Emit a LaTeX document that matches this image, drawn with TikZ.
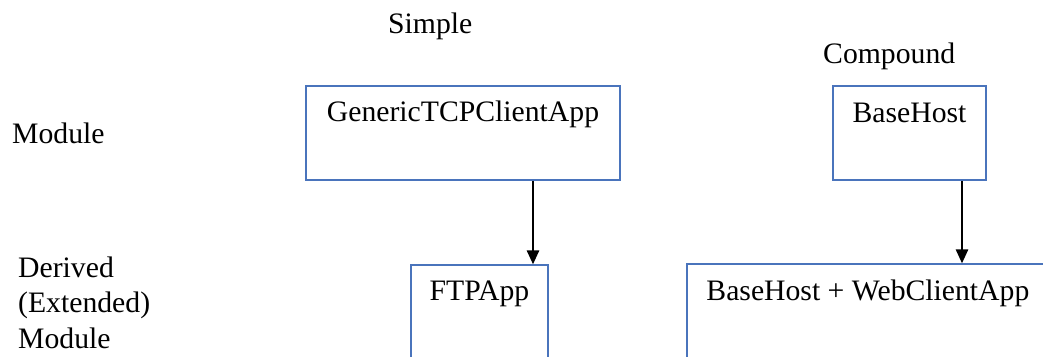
\documentclass[tikz,border=0pt]{standalone}
\usepackage{fontspec}
\setmainfont{Liberation Serif}
\usetikzlibrary{arrows.meta,calc}
\definecolor{boxblue}{HTML}{4A74BC}
\tikzset{
  modbox/.style={draw=boxblue, line width=1.5pt, fill=none, inner sep=0pt},
  caption/.style={font=\fontsize{29.7}{35.5}\selectfont, inner sep=0pt, text=black},
  inherit/.style={draw=black, line width=1.5pt, -{Triangle[length=14pt,width=12.5pt]}}
}
\begin{document}
\begin{tikzpicture}[x=1pt,y=-1pt]
  \useasboundingbox (0,0) rectangle (1043,356);
  \clip (0,0) rectangle (1043,356);

  % column and row headings
  \node[caption, anchor=base west] (simple) at (388,33) {Simple};
  \node[caption, anchor=base west] (compound) at (823,63) {Compound};
  \node[caption, anchor=base west] (module) at (12,143) {Module};
  % the base anchor of a multi-line node sits on its last line
  \node[caption, anchor=base west, align=left] (derived) at (18,348)
    {Derived\\(Extended)\\Module};

  % module boxes
  \node[modbox, minimum width=314pt, minimum height=94pt] (gen) at (463,133) {};
  \node[modbox, minimum width=153pt, minimum height=94pt] (bh) at (909.5,133) {};
  \node[modbox, minimum width=137pt, minimum height=155pt] (ftp) at (479.5,342.5) {};
  \node[modbox, minimum width=413pt, minimum height=156pt] (bhweb) at (893.5,342) {};

  % box titles
  \node[caption, anchor=base] (gent) at ([yshift=-36pt]gen.north) {GenericTCPClientApp};
  \node[caption, anchor=base] (bht) at ([yshift=-37pt]bh.north) {BaseHost};
  \node[caption, anchor=base] (ftpt) at ([yshift=-36pt]ftp.north) {FTPApp};
  \node[caption, anchor=base west] (bhwebt) at ([xshift=20pt,yshift=-37pt]bhweb.north west)
    {BaseHost + WebClientApp};

  % derivation arrows
  \draw[inherit] ([xshift=70pt]gen.south) -- ([xshift=70pt]gen.south |- ftp.north);
  \draw[inherit] ([xshift=52.5pt]bh.south) -- ([xshift=52.5pt]bh.south |- bhweb.north);
\end{tikzpicture}
\end{document}
